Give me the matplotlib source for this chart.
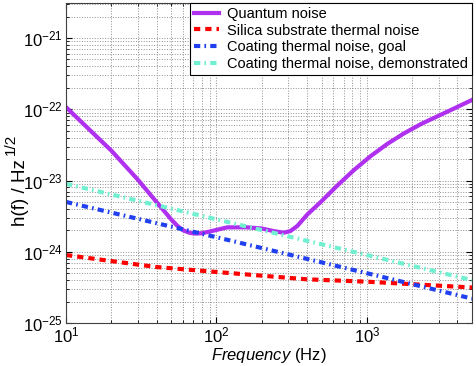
import numpy as np
import matplotlib
matplotlib.use("Agg")
import matplotlib.pyplot as plt
from matplotlib.ticker import LogLocator, NullFormatter

plt.rcParams["font.family"] = ["Liberation Sans", "DejaVu Sans"]
plt.rcParams["mathtext.fontset"] = "custom"
plt.rcParams["mathtext.rm"] = "Liberation Sans"
plt.rcParams["mathtext.it"] = "Liberation Sans:italic"
plt.rcParams["mathtext.default"] = "rm"

# quantum noise
quantum_f = [10, 15, 20, 30, 42, 50, 55, 60, 66, 72, 80, 90, 118, 160, 200,
             240, 280, 310, 345, 400, 494, 640, 820, 1060, 1370, 1770, 2290,
             2960, 3820, 5000]
quantum_h = [1.07e-22, 4.7e-23, 2.63e-23, 1.03e-23, 4.4e-24, 2.85e-24, 2.31e-24,
             2.0e-24, 1.85e-24, 1.8e-24, 1.82e-24, 1.92e-24, 2.2e-24, 2.2e-24,
             2.12e-24, 1.95e-24, 1.85e-24, 1.95e-24, 2.3e-24, 3.3e-24, 5.0e-24,
             8.6e-24, 1.4e-23, 2.2e-23, 3.27e-23, 4.6e-23, 6.2e-23, 8.0e-23,
             1.03e-22, 1.35e-22]

substrate_f = [10, 20, 40, 100, 400, 1000, 5000]
substrate_h = [9.0e-25, 7.4e-25, 6.1e-25, 5.2e-25, 4.1e-25, 3.8e-25, 3.15e-25]

coat_goal_f = [10, 100, 1000, 5000]
coat_goal_h = [5.0e-24, 1.6e-24, 5.0e-25, 2.2e-25]

coat_demo_f = [10, 100, 1000, 5000]
coat_demo_h = [9.0e-24, 2.85e-24, 9.0e-25, 4.0e-25]

labels = ["Quantum noise", "Silica substrate thermal noise",
          "Coating thermal noise, goal", "Coating thermal noise, demonstrated"]

W, H = 477, 366
fig = plt.figure(figsize=(W / 100, H / 100), dpi=100)
ax = fig.add_axes([0.1384, 0.1175, 0.8511, 0.8743])

dashdot = (0, (1.5, 1.0, 0.4, 1.0))
ax.loglog(quantum_f, quantum_h, color="#B030F0", lw=3, label=labels[0])
ax.loglog(substrate_f, substrate_h, color="#FF0000", lw=3, ls=(0, (1.5, 1.2)),
          label=labels[1])
ax.loglog(coat_goal_f, coat_goal_h, color="#2040F0", lw=3, ls=dashdot,
          label=labels[2])
ax.loglog(coat_demo_f, coat_demo_h, color="#70F0D0", lw=3, ls=dashdot,
          label=labels[3])

ax.set_xlim(10, 5000)
ax.set_ylim(1e-25, 3.1e-21)
ax.yaxis.set_major_locator(LogLocator(base=10, numticks=10))
ax.yaxis.set_minor_locator(LogLocator(base=10, subs=np.arange(2, 10), numticks=10))
ax.yaxis.set_minor_formatter(NullFormatter())
ax.xaxis.set_minor_formatter(NullFormatter())

ax.grid(True, which="both", ls=":", color="#909090", lw=0.7)
ax.tick_params(which="both", direction="in", top=True, right=True, labelsize=12)
ax.tick_params(which="major", length=4)
ax.tick_params(which="minor", length=2)
ax.tick_params(axis="x", pad=2)
ax.tick_params(axis="y", pad=2)
for s in ax.spines.values():
    s.set_linewidth(0.8)
    s.set_color("#404040")

ax.set_xlabel(r"$\it{Frequency}$ (Hz)", fontsize=12, labelpad=0)

# y label with a full-size MATLAB-like superscript
fig.text(25 / W, 1 - 192.5 / H, "h(f) / Hz", fontsize=13.5, rotation=90,
         rotation_mode="anchor", ha="center", va="baseline")
fig.text(15 / W, 1 - 155 / H, "1/2", fontsize=11, rotation=90,
         rotation_mode="anchor", ha="left", va="baseline")

leg = ax.legend(loc="upper right", fontsize=10.5, fancybox=False, framealpha=1,
                edgecolor="black", borderaxespad=0, handlelength=1.75,
                labelspacing=0.2, borderpad=0.25, handletextpad=0.55)
leg.get_frame().set_linewidth(0.8)

fig.savefig("out.png", dpi=100)
